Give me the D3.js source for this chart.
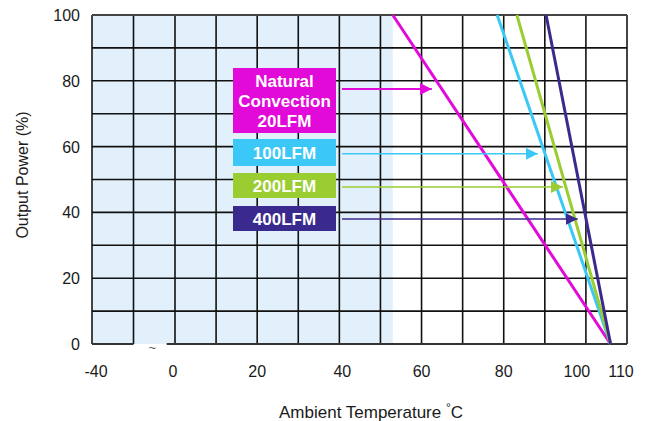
<!DOCTYPE html>
<meta charset="utf-8">
<head>
<style>
  body { margin: 0; background: #fff; }
  text { font-family: "Liberation Sans", Arial, sans-serif; }
  .tick-label { font-size: 16px; fill: #1a1a1a; }
  .grid { stroke: #111; stroke-width: 1.6px; }
  .curve { fill: none; stroke-width: 3px; }
  .legend-text { fill: #fff; font-weight: bold; font-size: 17px; }
</style>
</head>
<body>
<div id="content"></div>
<script src="https://d3js.org/d3.v7.min.js"></script>
<script>

// x grid values (axis is compressed between -40 and 0)
var xGrid = [-40, -20, 0, 10, 20, 30, 40, 50, 60, 70, 80, 90, 100, 110];
var xTicks = [-40, 0, 20, 40, 60, 80, 100, 110];
var yGrid = [0, 10, 20, 30, 40, 50, 60, 70, 80, 90, 100];
var yTicks = [0, 20, 40, 60, 80, 100];

// derating curves: start temp at 100%, end temp at 0%
var curveNames = ["Natural Convection 20LFM", "100LFM", "200LFM", "400LFM"];
var curveStart = [53, 78.4, 83.2, 90.3];
var curveEnd = [106, 106, 106, 106];
var curveColors = ["#e20ad8", "#3cc8f6", "#9acd32", "#3b2a8e"];

// legend labels and arrow targets (temp, power)
var legendLines = [["Natural", "Convection", "20LFM"], ["100LFM"], ["200LFM"], ["400LFM"]];
var arrowY = [77.5, 57.8, 47.7, 38];
var arrowTipX = [62.5, 88.3, 94.4, 98];

var shadeTo = 53;

var width = 648, height = 421;

var x = d3.scaleLinear().domain([-40, 0, 110]).range([92, 175, 627]);
var y = d3.scaleLinear().domain([0, 100]).range([344, 15]);

var svg = d3.select("#content").append("svg")
    .attr("width", width).attr("height", height);

var defs = svg.append("defs");
curveColors.forEach(function(c, i) {
  defs.append("marker")
    .attr("id", "arr" + i)
    .attr("viewBox", "0 0 10 10")
    .attr("refX", 10).attr("refY", 5)
    .attr("markerWidth", 12).attr("markerHeight", 12)
    .attr("markerUnits", "userSpaceOnUse")
    .attr("orient", "auto")
    .append("path")
    .attr("d", "M0,0 L10,5 L0,10 z")
    .attr("fill", c);
});

// shaded region
svg.append("rect")
  .attr("x", x(-40)).attr("y", y(100))
  .attr("width", x(shadeTo) - x(-40))
  .attr("height", y(0) - y(100))
  .attr("fill", "#e2f0fc");

// grid
svg.selectAll("line.vgrid")
  .data(xGrid)
  .enter().append("line")
  .attr("class", "grid")
  .attr("x1", function(d) { return x(d); })
  .attr("x2", function(d) { return x(d); })
  .attr("y1", y(0)).attr("y2", y(100))
  .style("stroke", function(d) { return (d === -40 || d === 110) ? "#444" : null; })
  .style("stroke-width", function(d) { return (d === -40 || d === 110) ? "2px" : null; });

svg.selectAll("line.hgrid")
  .data(yGrid.filter(function(d) { return d !== 0; }))
  .enter().append("line")
  .attr("class", "grid")
  .attr("x1", x(-40)).attr("x2", x(110))
  .attr("y1", function(d) { return y(d); })
  .attr("y2", function(d) { return y(d); })
  .style("stroke", function(d) { return d === 100 ? "#444" : null; })
  .style("stroke-width", function(d) { return d === 100 ? "2px" : null; });

// bottom axis with a break
svg.append("line").attr("class", "grid")
  .attr("x1", x(-40)).attr("x2", x(-20))
  .attr("y1", y(0)).attr("y2", y(0)).style("stroke", "#333").style("stroke-width", "2px");
svg.append("line").attr("class", "grid")
  .attr("x1", x(-4)).attr("x2", x(110))
  .attr("y1", y(0)).attr("y2", y(0)).style("stroke", "#333").style("stroke-width", "2px");
svg.append("text")
  .attr("x", x(-10) - 2).attr("y", y(0) + 8)
  .attr("text-anchor", "middle")
  .style("font-size", "13px").style("fill", "#555")
  .text("~");

// curves
svg.selectAll("line.curve")
  .data(curveNames)
  .enter().append("line")
  .attr("class", "curve")
  .attr("x1", function(d, i) { return x(curveStart[i]); })
  .attr("y1", y(100))
  .attr("x2", function(d, i) { return x(curveEnd[i]); })
  .attr("y2", y(0))
  .attr("stroke", function(d, i) { return curveColors[i]; });

// legend boxes
var boxX = 233, boxW = 103;
var boxTops = [68, 139, 173, 206];
var boxH = [65, 27, 25, 25];
legendLines.forEach(function(lines, i) {
  svg.append("rect")
    .attr("x", boxX).attr("y", boxTops[i])
    .attr("width", boxW).attr("height", boxH[i])
    .attr("fill", curveColors[i]);
  var t = svg.append("text")
    .attr("class", "legend-text")
    .attr("text-anchor", "middle");
  var cy = boxTops[i] + boxH[i] / 2;
  lines.forEach(function(s, j) {
    t.append("tspan")
      .attr("x", boxX + boxW / 2)
      .attr("y", cy + (j - (lines.length - 1) / 2) * 20 + 6)
      .text(s);
  });
  // arrow
  svg.append("line")
    .attr("x1", boxX + boxW + 6).attr("x2", x(arrowTipX[i]))
    .attr("y1", y(arrowY[i])).attr("y2", y(arrowY[i]))
    .attr("stroke", curveColors[i])
    .attr("stroke-width", i === 0 ? 2 : 1.5)
    .attr("marker-end", "url(#arr" + i + ")");
});

// tick labels
var xNudge = {"-40": 4, "0": -2, "40": 3, "100": -9, "110": -6};
svg.selectAll("text.xt")
  .data(xTicks)
  .enter().append("text")
  .attr("class", "tick-label")
  .attr("text-anchor", "middle")
  .attr("x", function(d) { return x(d) + (xNudge[d] || 0); })
  .attr("y", 377)
  .text(function(d) { return d; });

svg.selectAll("text.yt")
  .data(yTicks)
  .enter().append("text")
  .attr("class", "tick-label")
  .attr("text-anchor", "end")
  .attr("x", 80)
  .attr("y", function(d) { return y(d) + 6; })
  .text(function(d) { return d; });

// axis titles
svg.append("text")
  .attr("transform", "translate(28," + 175 + ") rotate(-90)")
  .attr("text-anchor", "middle")
  .style("font-size", "16px").style("fill", "#1a1a1a")
  .text("Output Power  (%)");

var xt = svg.append("text")
  .attr("x", 371).attr("y", 418)
  .attr("text-anchor", "middle")
  .style("font-size", "17px").style("fill", "#1a1a1a");
xt.append("tspan").text("Ambient Temperature ");
xt.append("tspan").attr("dy", -6).style("font-size", "12px").text("°");
xt.append("tspan").attr("dy", 6).text("C");

</script>
</body>
</html>
